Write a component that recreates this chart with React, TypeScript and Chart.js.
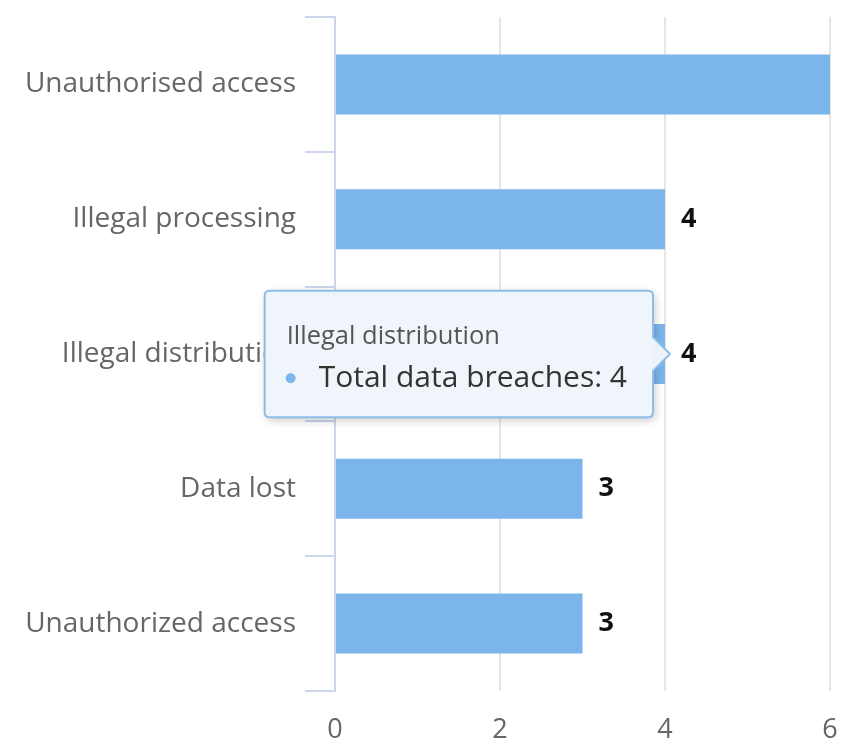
import React, { useEffect, useRef } from 'react';
import { Chart, registerables, Tooltip } from 'chart.js';

Chart.register(...registerables);

// ---- Data ----
const categories = [
  'Unauthorised access',
  'Illegal processing',
  'Illegal distribution',
  'Data lost',
  'Unauthorized access',
];
const breaches = [6, 4, 4, 3, 3];
const xTickValues = [0, 2, 4, 6];
const seriesName = 'Total data breaches';
const activeIndex = 2;

const BAR_COLOR = '#7cb5ec';
const FONT = "'Open Sans', sans-serif";

(Tooltip.positioners as any).barEnd = function (items: any[]) {
  if (!items.length) return false;
  const el = items[0].element;
  return { x: el.x, y: el.y };
};

const valueLabels = {
  id: 'valueLabels',
  afterDatasetsDraw(chart: any) {
    const ctx = chart.ctx;
    const meta = chart.getDatasetMeta(0);
    ctx.save();
    ctx.font = `bold 27px ${FONT}`;
    ctx.fillStyle = '#111';
    ctx.textBaseline = 'middle';
    ctx.textAlign = 'left';
    meta.data.forEach((bar: any, i: number) => {
      ctx.fillText(String(breaches[i]), bar.x + 16, bar.y);
    });
    ctx.restore();
  },
};

const tooltipShadow = {
  id: 'tooltipShadow',
  beforeTooltipDraw(chart: any, args: any) {
    const t = args.tooltip;
    if (!t || !t.opacity) return;
    const ctx = chart.ctx;
    ctx.save();
    ctx.shadowColor = 'rgba(0,0,0,0.22)';
    ctx.shadowBlur = 8;
    ctx.shadowOffsetX = 2;
    ctx.shadowOffsetY = 3;
    ctx.fillStyle = 'rgb(240,245,251)';
    ctx.beginPath();
    (ctx as any).roundRect(t.x, t.y, t.width, t.height, 5);
    ctx.fill();
    ctx.restore();
  },
};

export default function App() {
  const canvasRef = useRef<HTMLCanvasElement | null>(null);

  useEffect(() => {
    const canvas = canvasRef.current;
    if (!canvas) return;
    Chart.defaults.font.family = FONT;
    const chart = new Chart(canvas, {
      type: 'bar',
      data: {
        labels: categories,
        datasets: [
          {
            label: seriesName,
            data: breaches,
            backgroundColor: BAR_COLOR,
            borderWidth: 0,
            categoryPercentage: 1,
            barPercentage: 0.445,
          },
        ],
      },
      options: {
        indexAxis: 'y',
        responsive: false,
        animation: false,
        events: [],
        layout: { padding: { top: 17, right: 16, left: 0, bottom: 0 } },
        scales: {
          x: {
            type: 'linear',
            position: 'bottom',
            min: 0,
            max: 6,
            afterBuildTicks: (s: any) => {
              s.ticks = xTickValues.map((v) => ({ value: v }));
            },
            afterFit: (s: any) => {
              s.height = 56;
              s.paddingLeft = 0;
              s.paddingRight = 0;
            },
            grid: { color: '#e6e6e6', lineWidth: 2, drawTicks: false },
            border: { display: false },
            ticks: { color: '#666', font: { size: 27 }, padding: 23 },
          },
          y: {
            type: 'category',
            grid: {
              drawOnChartArea: false,
              color: '#ccd6eb',
              lineWidth: 2,
              tickLength: 30,
              offset: true,
            },
            border: { display: true, color: '#ccd6eb', width: 2 },
            ticks: { color: '#666', font: { size: 28 }, padding: 9 },
            afterFit: (s: any) => {
              s.width = 335;
              s.paddingTop = 0;
              s.paddingBottom = 0;
            },
          },
        },
        plugins: {
          legend: { display: false },
          tooltip: {
            enabled: true,
            position: 'barEnd' as any,
            xAlign: 'right',
            yAlign: 'center',
            backgroundColor: 'rgba(240,245,251,0.97)',
            borderColor: '#8dbde9',
            borderWidth: 2,
            cornerRadius: 5,
            caretSize: 17,
            caretPadding: -5,
            padding: { top: 31, bottom: 21, left: 22, right: 26 },
            titleColor: '#555',
            titleFont: { size: 25.5, weight: 'normal' },
            titleMarginBottom: 8,
            bodyColor: '#333',
            bodyFont: { size: 30 },
            displayColors: true,
            usePointStyle: true,
            boxWidth: 8,
            boxHeight: 8,
            boxPadding: 22,
            multiKeyBackground: 'rgba(0,0,0,0)',
            callbacks: {
              label: (c: any) => `${seriesName}: ${c.parsed.x}`,
              labelColor: () => ({ borderColor: BAR_COLOR, backgroundColor: BAR_COLOR }),
              labelPointStyle: () => ({ pointStyle: 'circle', rotation: 0 }),
            },
          },
        },
      } as any,
      plugins: [valueLabels, tooltipShadow],
    });

    const el = chart.getDatasetMeta(0).data[activeIndex];
    chart.tooltip?.setActiveElements([{ datasetIndex: 0, index: activeIndex }], { x: el.x, y: el.y });
    chart.update();

    return () => chart.destroy();
  }, []);

  return (
    <div style={{ position: 'absolute', left: 0, top: 0, width: 846, height: 747, background: '#fff' }}>
      <canvas ref={canvasRef} width={846} height={747} style={{ display: 'block' }} />
    </div>
  );
}
